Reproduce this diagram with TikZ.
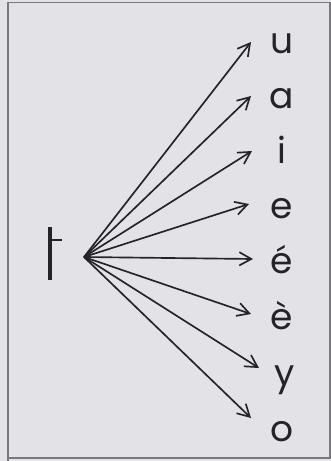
\documentclass[tikz,border=0pt]{standalone}
\usepackage{fontspec}
\setmainfont{Poppins}
\usetikzlibrary{arrows.meta}
\definecolor{bg}{RGB}{226,226,231}
\definecolor{frame}{RGB}{120,120,125}
\definecolor{ink}{RGB}{35,35,40}
\tikzset{
  px/.style={x=0.75pt,y=-0.75pt},
  letter/.style={anchor=base,inner sep=0pt,font=\fontsize{27}{27}\selectfont,text=ink},
  ray/.style={draw=ink,line width=1.25pt,-{Straight Barb[length=9pt,width=10pt,line width=1.25pt]}},
  bar/.style={draw=ink,line width=3pt},
  tick/.style={draw=ink,line width=2.2pt}
}
\begin{document}
\begin{tikzpicture}[px]
\useasboundingbox (0,0) rectangle (331,461);
\fill[bg] (0,0) rectangle (331,461);
\draw[frame,line width=1.2pt] (8,461) -- (8,2.5) -- (331,2.5);
\draw[frame,line width=0.8pt] (330,2.5) -- (330,458) -- (8,458);
% tone letter
\coordinate (barTop) at (50,227);
\coordinate (barBot) at (50,280);
\coordinate (tickL) at (51,240);
\coordinate (tickR) at (62,240);
\draw[bar] (barTop) -- (barBot);
\draw[tick] (tickL) -- (tickR);
% source
\coordinate (src) at (84,257);
% letters
\node[letter] (u) at (282,53) {u};
\node[letter] (a) at (282,108) {a};
\node[letter] (i) at (282,163) {i};
\node[letter] (e) at (282,218) {e};
\node[letter] (e1) at (282,273) {é};
\node[letter] (e2) at (282,329) {è};
\node[letter] (y) at (285,385) {y};
\node[letter] (o) at (282,441) {o};
% arrow tips
\coordinate (tu) at (251,42);
\coordinate (ta) at (251,96);
\coordinate (ti) at (252,151);
\coordinate (te) at (249,204);
\coordinate (te1) at (253,259);
\coordinate (te2) at (251,314);
\coordinate (ty) at (259,368);
\coordinate (to) at (251,418);
\foreach \t in {tu,ta,ti,te,te1,te2,ty,to}{\draw[ray] (src) -- (\t);}
\end{tikzpicture}
\end{document}
